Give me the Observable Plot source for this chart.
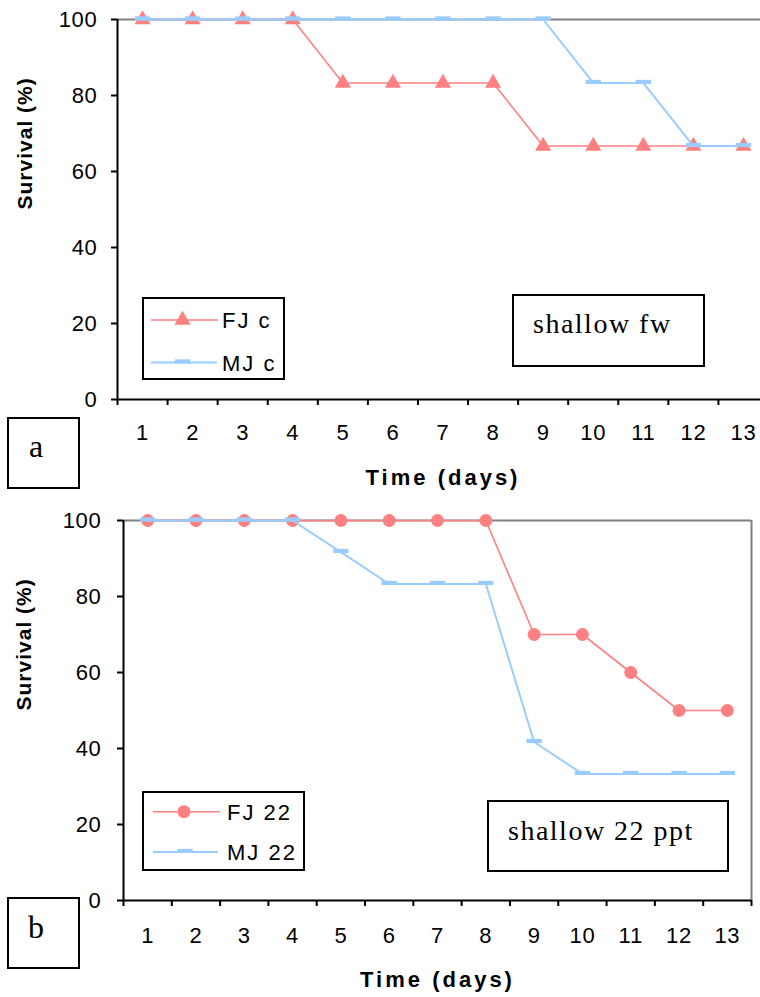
<!DOCTYPE html>
<html><head><meta charset="utf-8">
<script src="https://cdn.jsdelivr.net/npm/d3@7"></script>
<script src="https://cdn.jsdelivr.net/npm/@observablehq/plot@0.6"></script>
<style>
body{margin:0;background:#fff}
#fig{position:relative;width:760px;height:997px;overflow:hidden;background:#fff}
.abs{position:absolute;display:block}
</style>
</head><body><div id="fig"></div>
<script>
const days = [1,2,3,4,5,6,7,8,9,10,11,12,13];
const fjC  = [100,100,100,100,83.3,83.3,83.3,83.3,66.7,66.7,66.7,66.7,66.7];
const mjC  = [100,100,100,100,100,100,100,100,100,83.3,83.3,66.7,66.7];
const fj22 = [100,100,100,100,100,100,100,100,70,70,60,50,50];
const mj22 = [100,100,100,100,91.7,83.3,83.3,83.3,41.7,33.3,33.3,33.3,33.3];
const yTicks = [0,20,40,60,80,100];
const seriesA = ["FJ c","MJ c"];
const seriesB = ["FJ 22","MJ 22"];
const panelLetters = ["a","b"];
const notes = ["shallow fw","shallow 22 ppt"];
const xTitle = "Time (days)";
const yTitle = "Survival (%)";

const RED = "#FF8080", BLUE = "#99CCFF", GRAY = "#808080";
const SANS = "'Liberation Sans', Arial, sans-serif";
const fig = document.getElementById("fig");

const rows = vals => days.map((d,i) => ({day: d, value: vals[i]}));
const boundaries = days.map(d => d - 0.5).concat([days[days.length-1] + 0.5]);
const x0 = boundaries[0], x1 = boundaries[boundaries.length-1];

const dash = {draw(ctx, size){ const r = Math.sqrt(size/Math.PI); ctx.rect(-1.1*r, -0.45*r, 2.2*r, 0.6*r); }};

function panel(o){
  const fj = rows(o.fj), mj = rows(o.mj);
  const marks = [
    Plot.ruleY([100], {x1: x0, x2: x1, stroke: GRAY, strokeWidth: 2}),
    o.rightBorder ? Plot.ruleX([x1], {y1: 0, y2: 100, stroke: GRAY, strokeWidth: 2}) : null,
    Plot.axisY(yTicks, {tickSize: 6, tickPadding: o.padY, strokeWidth: 2, label: null}),
    Plot.axisX(boundaries, {tickSize: 6, strokeWidth: 2, tickFormat: () => "", label: null}),
    Plot.axisX(days, {tickSize: 0, tickPadding: o.padX, label: null}),
    Plot.ruleX([x0], {y1: 0, y2: 100, stroke: "black", strokeWidth: 2}),
    Plot.ruleY([0], {x1: x0, x2: x1, stroke: "black", strokeWidth: 2}),
    Plot.line(fj, {x: "day", y: "value", stroke: RED, strokeWidth: 1.6}),
    Plot.dot(fj, {x: "day", y: "value", symbol: o.fjSymbol, r: o.fjR, fill: RED, stroke: "none"}),
    Plot.line(mj, {x: "day", y: "value", stroke: BLUE, strokeWidth: 2}),
    Plot.dot(mj, {x: "day", y: "value", symbol: dash, r: 7, fill: BLUE, stroke: "none"}),
    Plot.text([yTitle], {text: d => d, frameAnchor: "left", dx: o.titleDx, rotate: -90, fontWeight: "bold", fontSize: 21}),
    Plot.text([xTitle], {text: d => d, frameAnchor: "bottom", dy: o.titleDy, fontWeight: "bold", fontSize: 22})
  ].filter(Boolean);
  const svg = Plot.plot({
    width: o.w, height: o.h,
    marginLeft: o.ml, marginRight: o.mr, marginTop: o.mt, marginBottom: o.mb,
    x: {domain: [x0, x1]},
    y: {domain: [0, 100]},
    style: {fontFamily: SANS, fontSize: "22px", color: "black",
            background: "transparent", letterSpacing: "0.7px", maxWidth: "none", overflow: "visible"},
    marks
  });
  d3.select(svg).selectAll("text")
    .filter(function(){ return this.textContent === xTitle || this.textContent === yTitle; })
    .attr("letter-spacing", function(){ return this.textContent === xTitle ? 3 : 1; });
  svg.classList.add("abs");
  svg.style.left = "0px";
  svg.style.top = o.top + "px";
  fig.appendChild(svg);
}

panel({fj: fjC, mj: mjC, fjSymbol: "triangle", fjR: 6, w: 780, h: 500, ml: 117, mr: 12, mt: 19, mb: 101,
       padY: 14, padX: 25, titleDx: -92, titleDy: 85, top: 0, rightBorder: false});
panel({fj: fj22, mj: mj22, fjSymbol: "circle", fjR: 6.5, w: 760, h: 497, ml: 123, mr: 9, mt: 20, mb: 97,
       padY: 16, padX: 27, titleDy: 86, titleDx: -99, top: 500, rightBorder: true});

function addSvg(left, top, w, h){
  const s = d3.select(fig).append("svg").attr("class", "abs")
    .style("left", left + "px").style("top", top + "px")
    .attr("width", w).attr("height", h);
  s.append("rect").attr("x", 1).attr("y", 1).attr("width", w - 2).attr("height", h - 2)
    .attr("fill", "white").attr("stroke", "black").attr("stroke-width", 2);
  return s;
}

function addLegend(pos, entries){
  const s = addSvg(pos.left, pos.top, pos.w, pos.h);
  entries.forEach(e => {
    s.append("line").attr("x1", e.x1).attr("x2", e.x2).attr("y1", e.y).attr("y2", e.y)
      .attr("stroke", e.color).attr("stroke-width", e.sw);
    s.append("path").attr("transform", `translate(${e.mx},${e.y})`)
      .attr("d", d3.symbol(e.symbol, Math.PI * e.r * e.r)()).attr("fill", e.color);
    s.append("text").attr("x", e.tx).attr("y", e.y + 8).text(e.label)
      .attr("font-family", SANS).attr("font-size", 22)
      .attr("letter-spacing", 2).attr("fill", "black");
  });
}

function addNote(left, top, w, h, text, tx, ty, fs, ls){
  const s = addSvg(left, top, w, h);
  s.append("text").attr("x", tx).attr("y", ty).text(text)
    .attr("font-family", "'Liberation Serif', 'Times New Roman', serif").attr("font-size", fs)
    .attr("letter-spacing", ls).attr("fill", "black");
}

addLegend({left: 142, top: 297, w: 143, h: 83}, [
  {label: seriesA[0], color: RED, sw: 1.5, y: 23, x1: 9, x2: 76, mx: 40.5, tx: 80, symbol: d3.symbolTriangle, r: 6},
  {label: seriesA[1], color: BLUE, sw: 2, y: 65.5, x1: 9, x2: 75, mx: 40.5, tx: 80, symbol: dash, r: 7}
]);
addLegend({left: 142, top: 791, w: 163, h: 80}, [
  {label: seriesB[0], color: RED, sw: 1.5, y: 20.7, x1: 11, x2: 78, mx: 42, tx: 85, symbol: d3.symbolCircle, r: 6.5},
  {label: seriesB[1], color: BLUE, sw: 2, y: 61, x1: 11, x2: 76, mx: 43, tx: 85, symbol: dash, r: 7}
]);

addNote(512, 294, 193, 73, notes[0], 21, 39, 28, 1.5);
addNote(487, 800, 242, 72, notes[1], 21, 40, 28, 1.5);
addNote(7, 417, 73, 72, panelLetters[0], 22, 40, 32, 0);
addNote(7, 897, 73, 72, panelLetters[1], 21, 41, 32, 0);
</script>
</body></html>
